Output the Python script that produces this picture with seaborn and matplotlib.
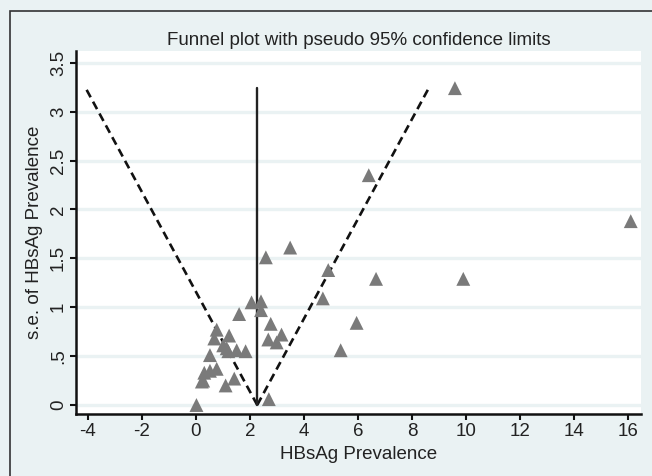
import numpy as np
import pandas as pd
import matplotlib
matplotlib.use("Agg")
import matplotlib.pyplot as plt
import seaborn as sns
from matplotlib.patches import Rectangle

# study prevalence (%) and its standard error
prevalence = [9.59, 6.40, 16.10, 3.49, 2.59, 4.90, 6.67, 9.90, 4.70, 5.95, 5.36,
              2.06, 2.41, 2.41, 1.60, 2.77, 0.77, 1.23, 3.17, 0.68, 2.68, 2.99,
              1.01, 1.14, 1.51, 1.84, 1.20, 0.52, 0.77, 0.52, 0.31, 0.27, 0.22,
              1.42, 1.10, 0.02, 2.70]
std_err = [3.24, 2.35, 1.88, 1.61, 1.51, 1.38, 1.29, 1.29, 1.09, 0.84, 0.56,
           1.05, 1.06, 0.97, 0.93, 0.83, 0.77, 0.71, 0.72, 0.68, 0.67, 0.64,
           0.61, 0.58, 0.56, 0.55, 0.55, 0.51, 0.37, 0.35, 0.33, 0.25, 0.24,
           0.27, 0.20, 0.00, 0.06]
pooled = 2.27
y_ticks = [0, 0.5, 1, 1.5, 2, 2.5, 3, 3.5]
y_tick_labels = ["0", ".5", "1", "1.5", "2", "2.5", "3", "3.5"]
x_ticks = [-4, -2, 0, 2, 4, 6, 8, 10, 12, 14, 16]

df = pd.DataFrame({"prev": prevalence, "se": std_err})

bg = "#eaf2f3"
txt = "#222222"
fs = 13.5
sns.set_theme(style="white")
plt.rcParams["font.family"] = ["Liberation Sans", "DejaVu Sans"]

fig = plt.figure(figsize=(6.52, 4.76), dpi=100, facecolor=bg)
ax = fig.add_axes([76 / 652, 1 - 414 / 476, 565 / 652, 363 / 476])
ax.set_facecolor("white")

# grid lines in background colour
for yt in y_ticks:
    ax.axhline(yt, color=bg, lw=2.4, zorder=0)

# pseudo 95% limits
se_max = max(std_err)
se_line = np.array([0, se_max])
ax.plot(pooled - 1.96 * se_line, se_line, color="#111111", lw=1.9,
        dashes=(3.2, 1.9), zorder=2)
ax.plot(pooled + 1.96 * se_line, se_line, color="#111111", lw=1.9,
        dashes=(3.2, 1.9), zorder=2)
ax.plot([pooled, pooled], [0, se_max], color="#222222", lw=1.7, zorder=2)

sns.scatterplot(data=df, x="prev", y="se", marker="^", s=100, color="#7a7a7a",
                edgecolor="none", ax=ax, zorder=3)

ax.set_xlim(-4.44, 16.48)
ax.set_ylim(-0.092, 3.62)
ax.set_xticks(x_ticks)
ax.set_xticklabels([str(t) for t in x_ticks])
ax.set_yticks(y_ticks)
ax.set_yticklabels(y_tick_labels, rotation=90, va="center")

for side in ["top", "right"]:
    ax.spines[side].set_visible(False)
for side in ["left", "bottom"]:
    ax.spines[side].set_color("#111111")
    ax.spines[side].set_linewidth(1.8)

ax.tick_params(axis="both", direction="out", length=4.5, width=1.5,
               color="#111111", labelsize=fs, labelcolor=txt, pad=2,
               left=True, bottom=True)

ax.set_xlabel("HBsAg Prevalence", fontsize=fs, color=txt, labelpad=4)
ax.set_ylabel("s.e. of HBsAg Prevalence", fontsize=fs, color=txt, labelpad=5)
ax.set_title("Funnel plot with pseudo 95% confidence limits", fontsize=fs,
             color=txt, pad=4)

# outer frame (only left and top edges visible in the crop)
fig.patches.append(Rectangle((10 / 652, -0.1), 1.2, 1 - 11 / 476 + 0.1,
                             transform=fig.transFigure, fill=False,
                             edgecolor="#333333", lw=1.2))

fig.savefig("out.png", dpi=100, facecolor=bg)
